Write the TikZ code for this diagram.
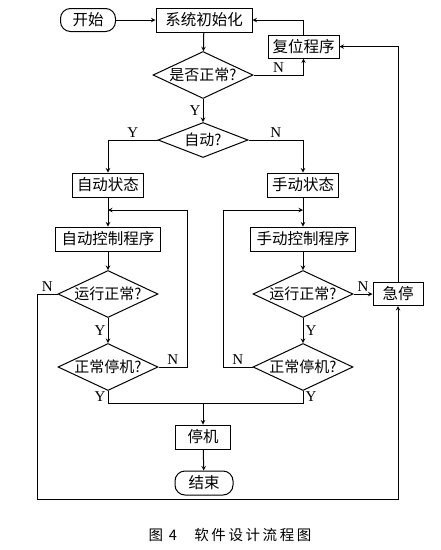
\documentclass[tikz,border=0pt]{standalone}
\usepackage{fontspec}
\setmainfont{Liberation Serif}
\newfontfamily\cjk{Noto Sans CJK SC}
\newfontfamily\cjkcap[LetterSpace=18]{Noto Sans CJK SC}
\usetikzlibrary{shapes.geometric}

\tikzset{
    box/.style={draw, font=\cjk\fontsize{15.5}{17}\selectfont, minimum height=24pt, inner sep=0pt},
    term/.style={box, rounded corners=10pt},
    cond/.style={draw, diamond, aspect=2.2, inner sep=0pt, font=\cjk\fontsize{15}{17}\selectfont, minimum width=100pt, minimum height=47pt},
    yn/.style={font=\fontsize{15}{17}\selectfont, inner sep=2pt}
}

\begin{document}
\begin{tikzpicture}[x=1pt, y=-1pt, line width=1pt, >=stealth]
    \useasboundingbox [fill=white] (0,0) rectangle (440,550);
    % nodes
    \node [term, minimum width=55pt, minimum height=23pt] (start) at (88,20) {开始};
    \node [box, minimum width=96pt] (init) at (204,20) {系统初始化};
    \node [box, minimum width=71pt, minimum height=23pt] (reset) at (303.5,46.5) {复位程序};
    \node [cond] (check) at (203,75) {是否正常?};
    \node [cond, minimum width=90pt, minimum height=35pt] (auto) at (203,140) {自动?};
    \node [box, minimum width=71pt] (autostate) at (108,185) {自动状态};
    \node [box, minimum width=71pt] (manstate) at (303,185) {手动状态};
    \node [box, minimum width=105pt] (autoprog) at (108,239) {自动控制程序};
    \node [box, minimum width=105pt] (manprog) at (303,239) {手动控制程序};
    \node [cond] (runL) at (108,294) {运行正常?};
    \node [cond] (runR) at (303,294) {运行正常?};
    \node [cond] (stopL) at (108,367) {正常停机?};
    \node [cond] (stopR) at (303,367) {正常停机?};
    \node [box, minimum width=50pt, minimum height=23pt] (estop) at (398,294) {急停};
    \node [box, minimum width=55pt] (halt) at (203,437) {停机};
    \node [term, minimum width=58pt] (end) at (204,483) {结束};
    \node [font=\cjkcap\fontsize{14.5}{16}\selectfont] (caption) at (230,535) {图 4\hspace{1.2em}软件设计流程图};
    % corner points
    \coordinate (loopL) at (187,210);
    \coordinate (loopR) at (223,210);
    \coordinate (join) at (203,403);
    \coordinate (sw) at (37,499);
    % connectors
    \draw [->] (start) -- (init);
    \draw [->] (init) -- (check);
    \draw [->] (check.east) -| node [yn, pos=0.25, above] {N} (reset.south);
    \draw [->] (reset.north) |- (init.east);
    \draw [->] (check.south) -- node [yn, left] {Y} (auto.north);
    \draw [->] (auto.west) -| node [yn, pos=0.25, above] {Y} (autostate.north);
    \draw [->] (auto.east) -| node [yn, pos=0.25, above] {N} (manstate.north);
    \draw [->] (autostate) -- (autoprog);
    \draw [->] (manstate) -- (manprog);
    \draw [->] (autoprog) -- (runL);
    \draw [->] (manprog) -- (runR);
    \draw [->] (runL) -- node [yn, left] {Y} (stopL);
    \draw [->] (runR) -- node [yn, right] {Y} (stopR);
    \draw [->] (stopL.east) -| node [yn, pos=0.25, above] {N} (loopL) -- (loopL -| autostate);
    \draw [->] (stopR.west) -| node [yn, pos=0.25, above] {N} (loopR) -- (loopR -| manstate);
    \draw (stopL.south) |- node [yn, pos=0.25, left] {Y} (join);
    \draw (stopR.south) |- node [yn, pos=0.25, right] {Y} (join);
    \draw [->] (join) -- (halt);
    \draw [->] (halt) -- (end);
    \draw [->] (runR.east) -- node [yn, above] {N} (estop.west);
    \draw [->] (runL.west) -| node [yn, pos=0.25, above] {N} (sw) -- (sw -| estop) -- (estop.south);
    \draw [->] (estop.north) |- (reset.east);
\end{tikzpicture}
\end{document}
